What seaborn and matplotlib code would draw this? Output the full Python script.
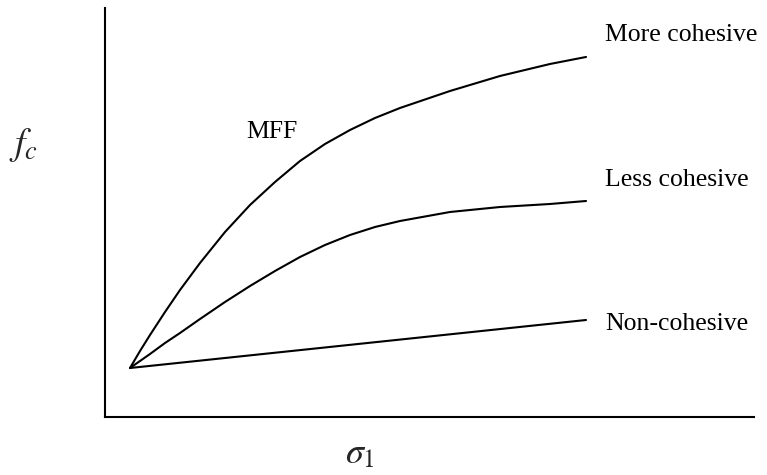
import matplotlib
matplotlib.use("Agg")
import matplotlib.pyplot as plt
import seaborn as sns
import pandas as pd

sns.set_theme(style="white")
plt.rcParams["font.family"] = ["Liberation Serif", "DejaVu Serif"]
plt.rcParams["mathtext.fontset"] = "stix"

# Major principal stress (arbitrary units)
sigma_1 = [25, 35, 45, 60, 75, 95, 120, 145, 170, 195, 220, 245, 270, 295,
           345, 395, 445, 481]
# Unconfined yield strength for each powder class
more_cohesive = [49, 66, 82, 105, 127, 154, 185, 212, 235, 256, 273, 287,
                 299, 309, 326, 341, 353, 360]
less_cohesive = [49, 56, 63, 74, 84, 98, 115, 131, 146, 160, 172, 182,
                 190, 196, 205, 210, 213, 216]
sigma_non = [25, 481]
non_cohesive = [49, 97]

labels = ["More cohesive", "Less cohesive", "Non-cohesive"]
label_y = [382, 237, 93]

fig = plt.figure(figsize=(7.67, 4.75), dpi=100)
ax = fig.add_axes([0.1369, 0.1221, 0.8462, 0.8611])

curves = [
    (sigma_1, more_cohesive),
    (sigma_1, less_cohesive),
    (sigma_non, non_cohesive),
]
for (xs, ys), name, ly in zip(curves, labels, label_y):
    df = pd.DataFrame({"sigma": xs, "fc": ys})
    sns.lineplot(data=df, x="sigma", y="fc", ax=ax, color="black",
                 linewidth=1.5, sort=False, estimator=None)
    ax.text(500, ly, name, fontsize=18.5, ha="left", va="center",
            color="black", clip_on=False)

ax.text(167, 285, "MFF", fontsize=18.5, ha="center", va="center", color="black")

ax.set_xlim(0, 649)
ax.set_ylim(0, 409)
ax.set_xticks([])
ax.set_yticks([])
ax.set_xlabel("")
ax.set_ylabel("")
for side in ("top", "right"):
    ax.spines[side].set_visible(False)
for side in ("left", "bottom"):
    ax.spines[side].set_color("black")
    ax.spines[side].set_linewidth(1.5)

fig.text(24 / 767, 1 - 145 / 475, r"$f_c$", fontsize=27, ha="center", va="center")
fig.text(360 / 767, 1 - 455 / 475, r"$\sigma_1$", fontsize=26, ha="center", va="center")

fig.savefig("out.png", dpi=100)
